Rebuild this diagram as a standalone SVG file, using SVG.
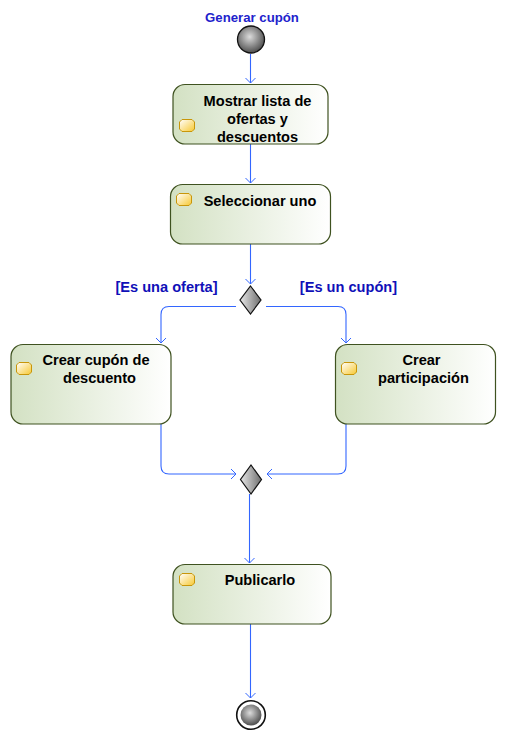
<svg xmlns="http://www.w3.org/2000/svg" width="506" height="741" viewBox="0 0 506 741">
<defs>
<linearGradient id="boxg" x1="0" y1="0" x2="1" y2="0">
<stop offset="0" stop-color="#d3e1c3"/>
<stop offset="1" stop-color="#ffffff"/>
</linearGradient>
<linearGradient id="icong" x1="0" y1="0" x2="1" y2="1">
<stop offset="0" stop-color="#ffffff"/>
<stop offset="1" stop-color="#f7c830"/>
</linearGradient>
<linearGradient id="diag" x1="0" y1="0" x2="1" y2="0">
<stop offset="0" stop-color="#e8e8e8"/>
<stop offset="1" stop-color="#6e6e6e"/>
</linearGradient>
<radialGradient id="ballg" cx="0.45" cy="0.4" r="0.6">
<stop offset="0" stop-color="#dcdcdc"/>
<stop offset="1" stop-color="#4e4e4e"/>
</radialGradient>
<marker id="arr" markerWidth="12" markerHeight="12" refX="6" refY="6" orient="auto" markerUnits="userSpaceOnUse">
<path d="M1,1 L6,6 L1,11" fill="none" stroke="#3366ff" stroke-width="1"/>
</marker>
<symbol id="icon" overflow="visible">
<path d="M3,0.5 H13 L15.5,3 V10 L13,12.5 H3 L0.5,10 V3 Z" fill="url(#icong)" stroke="#c8960a" stroke-width="1"/>
</symbol>
</defs>
<style>
.box{fill:url(#boxg);stroke:#3f5220;stroke-width:1.2}
.t{font-family:"Liberation Sans",Arial,sans-serif;font-weight:bold;font-size:14.6px;fill:#000;text-anchor:middle}
.g{font-family:"Liberation Sans",Arial,sans-serif;font-weight:bold;font-size:14.6px;fill:#1010b8;text-anchor:middle}
.c{fill:none;stroke:#3366ff;stroke-width:1.1}
.dia{fill:url(#diag);stroke:#111;stroke-width:1.2}
</style>
<rect width="506" height="741" fill="#fff"/>

<g id="connectors">
<path class="c" d="M250.5,54 L250.5,83" marker-end="url(#arr)"/>
<path class="c" d="M250.5,144 L250.5,183" marker-end="url(#arr)"/>
<path class="c" d="M250.5,244 L250.5,284" marker-end="url(#arr)"/>
<path class="c" d="M236,306.5 L169,306.5 Q161,306.5 161,314.5 L161,343" marker-end="url(#arr)"/>
<path class="c" d="M266,306.5 L338,306.5 Q346,306.5 346,314.5 L346,343" marker-end="url(#arr)"/>
<path class="c" d="M161,424 L161,466 Q161,474 169,474 L236,474" marker-end="url(#arr)"/>
<path class="c" d="M346,424 L346,466 Q346,474 338,474 L267,474" marker-end="url(#arr)"/>
<path class="c" d="M249.5,494 L249.5,563" marker-end="url(#arr)"/>
<path class="c" d="M250.5,624 L250.5,698" marker-end="url(#arr)"/>
</g>

<g id="start">
<text x="252" y="22" font-family="Liberation Sans, Arial, sans-serif" font-weight="bold" font-size="13.2" fill="#2222cc" text-anchor="middle">Generar cupón</text>
<circle cx="251" cy="39.5" r="13.5" fill="url(#ballg)" stroke="#111" stroke-width="1.3"/>
</g>

<g id="n1">
<rect class="box" x="173" y="84.5" width="155" height="59.5" rx="12"/>
<use href="#icon" x="179" y="119"/>
<text class="t" x="257.5" y="106">Mostrar lista de</text>
<text class="t" x="257.5" y="124">ofertas y</text>
<text class="t" x="257.5" y="142">descuentos</text>
</g>

<g id="n2">
<rect class="box" x="170.5" y="184.5" width="160" height="59.5" rx="12"/>
<use href="#icon" x="176" y="193"/>
<text class="t" x="260" y="206">Seleccionar uno</text>
</g>

<g id="d1">
<path class="dia" d="M250.5,286 L261,300 L250.5,314 L240,300 Z"/>
</g>

<g id="lbl1">
<text class="g" x="166.5" y="292">[Es una oferta]</text>
</g>
<g id="lbl2">
<text class="g" x="348.5" y="292">[Es un cupón]</text>
</g>

<g id="n3">
<rect class="box" x="11" y="344.5" width="160" height="79.5" rx="12"/>
<use href="#icon" x="16" y="362"/>
<text class="t" x="96" y="365">Crear cupón de</text>
<text class="t" x="99.5" y="383">descuento</text>
</g>

<g id="n4">
<rect class="box" x="335.5" y="344.5" width="160" height="79.5" rx="12"/>
<use href="#icon" x="341" y="362"/>
<text class="t" x="421.5" y="365">Crear</text>
<text class="t" x="423.5" y="383">participación</text>
</g>

<g id="d2">
<path class="dia" d="M251,465 L261.5,479.5 L251,494 L240.5,479.5 Z"/>
</g>

<g id="n5">
<rect class="box" x="173" y="564.5" width="158" height="59.5" rx="12"/>
<use href="#icon" x="179" y="573"/>
<text class="t" x="260" y="585">Publicarlo</text>
</g>

<g id="end">
<circle cx="251" cy="715" r="14.3" fill="#fff" stroke="#111" stroke-width="1.6"/>
<circle cx="251" cy="715" r="10.5" fill="url(#ballg)"/>
</g>
</svg>
